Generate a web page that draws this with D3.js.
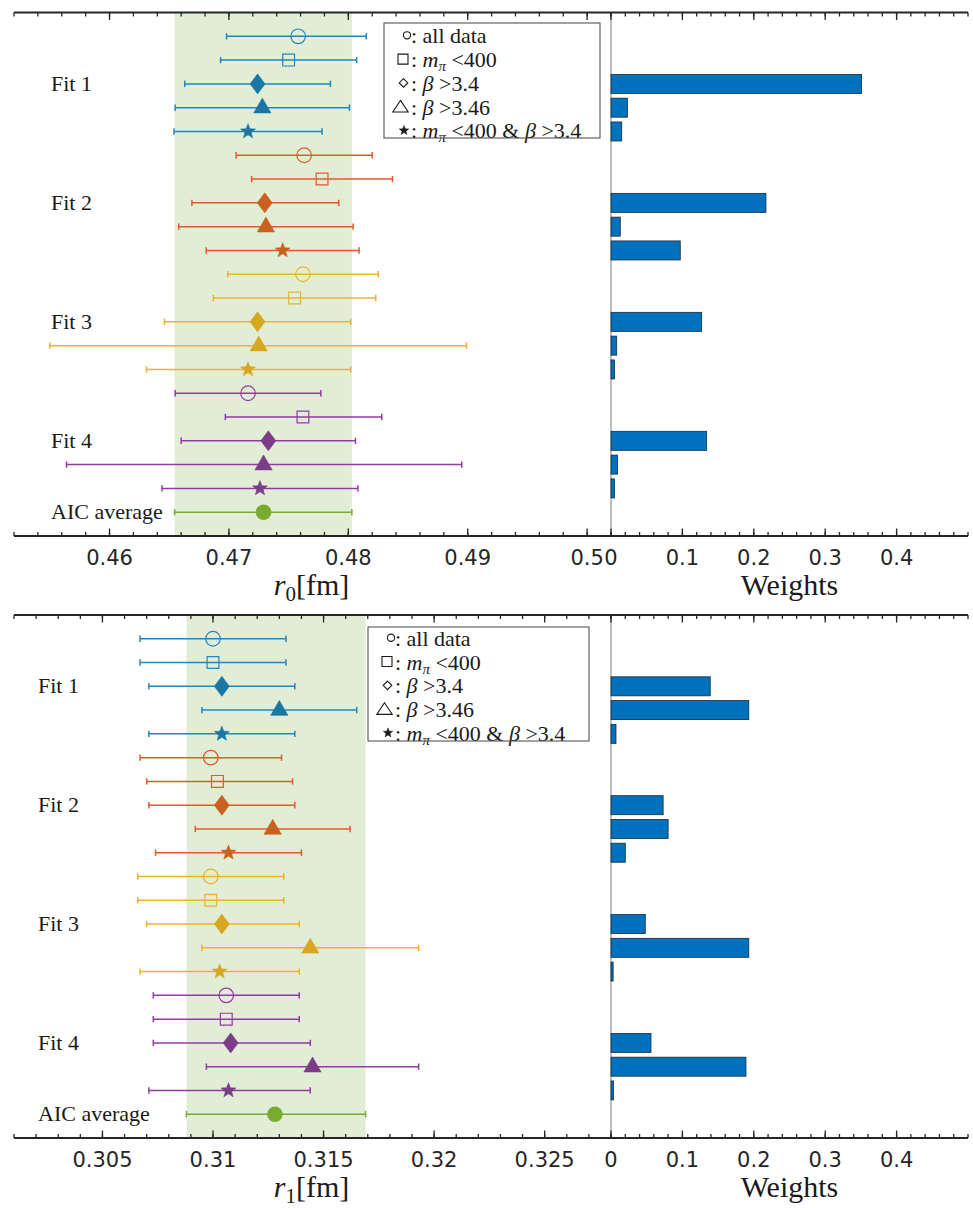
<!DOCTYPE html>
<html>
<head>
<meta charset="utf-8">
<script src="https://cdn.jsdelivr.net/npm/d3@7"></script>
<style>
  body { margin: 0; background: #fff; }
  svg { display: block; }
</style>
</head>
<body>
<svg id="chart" width="973" height="1208"></svg>
<script>
// ---------- data ----------
const fitNames = ["Fit 1", "Fit 2", "Fit 3", "Fit 4"];
const avgName = "AIC average";
const cutShapes = ["circle", "square", "diamond", "triangle", "star"];

// r0 [fm]: central value, lower and upper end of the error bar, 5 cuts per fit
const r0Center = [0.4758, 0.4750, 0.4724, 0.4728, 0.4716,
                  0.4763, 0.4778, 0.4730, 0.4731, 0.4745,
                  0.4762, 0.4755, 0.4724, 0.4725, 0.4716,
                  0.4716, 0.4762, 0.4733, 0.4729, 0.4726];
const r0Lower  = [0.4698, 0.4693, 0.4663, 0.4655, 0.4654,
                  0.4706, 0.4719, 0.4669, 0.4658, 0.4681,
                  0.4699, 0.4687, 0.4646, 0.4550, 0.4631,
                  0.4655, 0.4697, 0.4660, 0.4564, 0.4644];
const r0Upper  = [0.4815, 0.4807, 0.4785, 0.4801, 0.4778,
                  0.4820, 0.4837, 0.4792, 0.4804, 0.4809,
                  0.4825, 0.4823, 0.4802, 0.4899, 0.4802,
                  0.4777, 0.4828, 0.4806, 0.4895, 0.4808];
const r0Average = [0.4729, 0.46545, 0.4803];   // value, lower, upper
const r0Weights = [0, 0, 0.351, 0.023, 0.015,
                   0, 0, 0.217, 0.013, 0.097,
                   0, 0, 0.127, 0.008, 0.005,
                   0, 0, 0.134, 0.009, 0.005];
const r0Ticks = [0.46, 0.47, 0.48, 0.49, 0.5];

// r1 [fm]
const r1Center = [0.3100, 0.3100, 0.3104, 0.3130, 0.3104,
                  0.3099, 0.3102, 0.3104, 0.3127, 0.3107,
                  0.3099, 0.3099, 0.3104, 0.3144, 0.3103,
                  0.3106, 0.3106, 0.3108, 0.3145, 0.3107];
const r1Lower  = [0.3067, 0.3067, 0.3071, 0.3095, 0.3071,
                  0.3067, 0.3070, 0.3071, 0.3092, 0.3074,
                  0.3066, 0.3066, 0.3070, 0.3095, 0.3067,
                  0.3073, 0.3073, 0.3073, 0.3097, 0.3071];
const r1Upper  = [0.3133, 0.3133, 0.3137, 0.3165, 0.3137,
                  0.3131, 0.3136, 0.3137, 0.3162, 0.3140,
                  0.3132, 0.3132, 0.3139, 0.3193, 0.3139,
                  0.3139, 0.3139, 0.3144, 0.3193, 0.3144];
const r1Average = [0.3128, 0.3088, 0.3169];
const r1Weights = [0, 0, 0.139, 0.193, 0.007,
                   0, 0, 0.073, 0.080, 0.020,
                   0, 0, 0.048, 0.193, 0.003,
                   0, 0, 0.056, 0.189, 0.0035];
const r1Ticks = [0.305, 0.31, 0.315, 0.32, 0.325];

const weightTicks = [0, 0.1, 0.2, 0.3, 0.4];

// ---------- styling ----------
const lineColors   = ["#2386c0", "#e2592a", "#eeb22b", "#9539a6"];
const markerColors = ["#1a77a3", "#c9611f", "#d6a821", "#7b3d87"];
const avgColor  = "#77ac30";
const bandColor = "#e2edd6";
const barColor  = "#0072bd";
const inkColor  = "#262626";
const serif = "'Liberation Serif', 'Times New Roman', serif";
const sans  = "'DejaVu Sans', sans-serif";
const textSize = 22;

const svg = d3.select("#chart");

// custom marker outlines (argument = nominal radius in px)
const shapeDiamond = { draw(c, r) { const w = r * 0.75; c.moveTo(0, -r); c.lineTo(w, 0); c.lineTo(0, r); c.lineTo(-w, 0); c.closePath(); } };
const shapeTriangle = { draw(c, r) { c.moveTo(0, -r); c.lineTo(r * 0.9, r * 0.55); c.lineTo(-r * 0.9, r * 0.55); c.closePath(); } };
const shapeStar = { draw(c, r) {
  const ri = r * 0.42;
  for (let k = 0; k < 10; k++) {
    const rad = k % 2 ? ri : r;
    const a = -Math.PI / 2 + k * Math.PI / 5;
    const px = rad * Math.cos(a), py = rad * Math.sin(a);
    if (k === 0) c.moveTo(px, py); else c.lineTo(px, py);
  }
  c.closePath();
} };
const shapeSquare = { draw(c, r) { c.rect(-r, -r, 2 * r, 2 * r); } };
const shapeCircle = { draw(c, r) { c.moveTo(r, 0); c.arc(0, 0, r, 0, 2 * Math.PI); } };
// wider, flatter outline used for the legend's triangle glyph
const shapeOpenTriangle = { draw(c, r) { c.moveTo(0, -r * 0.9); c.lineTo(r * 1.1, r * 0.75); c.lineTo(-r * 1.1, r * 0.75); c.closePath(); } };
const shapeSmallDiamond = { draw(c, r) { c.moveTo(0, -r); c.lineTo(r, 0); c.lineTo(0, r); c.lineTo(-r, 0); c.closePath(); } };

const markerSpec = {
  circle:   { type: shapeCircle,   r: 7.3, filled: false },
  square:   { type: shapeSquare,   r: 5.9, filled: false },
  diamond:  { type: shapeDiamond,  r: 10,  filled: true },
  triangle: { type: shapeTriangle, r: 9.6, filled: true },
  star:     { type: shapeStar,     r: 7.8, filled: true }
};

function legendLabel(text, parts) {
  parts.forEach(p => {
    const t = text.append("tspan").text(p.t);
    if (p.it) t.attr("font-style", "italic");
    if (p.sub) t.attr("font-size", 15).attr("baseline-shift", "-4");
  });
}

// legend glyphs (outline, size, horizontal offset in the box) and labels
const legendEntries = [
  { type: shapeCircle,       r: 3.6, dx: 23,   fill: false, parts: [{ t: "all data" }] },
  { type: shapeSquare,       r: 5,   dx: 19,   fill: false, parts: [{ t: "m", it: true }, { t: "π", it: true, sub: true }, { t: " <400" }] },
  { type: shapeSmallDiamond, r: 4.3, dx: 19.5, fill: false, parts: [{ t: "β", it: true }, { t: " >3.4" }] },
  { type: shapeOpenTriangle, r: 7,   dx: 16.5, fill: false, parts: [{ t: "β", it: true }, { t: " >3.46" }] },
  { type: shapeStar,         r: 5,   dx: 20,   fill: true,  parts: [{ t: "m", it: true }, { t: "π", it: true, sub: true }, { t: " <400 & " }, { t: "β", it: true }, { t: " >3.4" }] }
];

function drawPanel(cfg) {
  const g = svg.append("g");
  const x = d3.scaleLinear().domain(cfg.domain).range([14, 611]);
  const w = d3.scaleLinear().domain([0, 0.5]).range([611, 968]);
  const y = d3.scaleLinear().domain([0, 22]).range([cfg.top, cfg.bottom]);

  // AIC-average band
  g.append("rect")
    .attr("x", x(cfg.average[1])).attr("width", x(cfg.average[2]) - x(cfg.average[1]))
    .attr("y", cfg.top).attr("height", cfg.bottom - cfg.top)
    .attr("fill", bandColor);

  // zero line of the weights panel
  g.append("line")
    .attr("x1", w(0)).attr("x2", w(0)).attr("y1", cfg.top).attr("y2", cfg.bottom)
    .attr("stroke", "#a8a8a8").attr("stroke-width", 1.5);

  // weight bars
  const rows = cfg.center.map((c, i) => ({
    i, row: i + 1, fit: Math.floor(i / 5), shape: cutShapes[i % 5],
    c, lo: cfg.lower[i], hi: cfg.upper[i], wt: cfg.weights[i]
  }));
  g.append("g").selectAll("rect").data(rows.filter(d => d.wt > 0)).join("rect")
    .attr("x", w(0)).attr("width", d => w(d.wt) - w(0))
    .attr("y", d => y(d.row - 0.4)).attr("height", d => y(d.row + 0.4) - y(d.row - 0.4))
    .attr("fill", barColor).attr("stroke", "#1e2a36").attr("stroke-width", 0.8);

  // error bars
  const eb = g.append("g").selectAll("g").data(rows).join("g")
    .attr("stroke", d => lineColors[d.fit]).attr("stroke-width", 1.5).attr("fill", "none");
  eb.append("line").attr("x1", d => x(d.lo)).attr("x2", d => x(d.hi)).attr("y1", d => y(d.row)).attr("y2", d => y(d.row));
  eb.append("line").attr("x1", d => x(d.lo)).attr("x2", d => x(d.lo)).attr("y1", d => y(d.row) - 3.2).attr("y2", d => y(d.row) + 3.2);
  eb.append("line").attr("x1", d => x(d.hi)).attr("x2", d => x(d.hi)).attr("y1", d => y(d.row) - 3.2).attr("y2", d => y(d.row) + 3.2);

  // markers
  g.append("g").selectAll("path").data(rows).join("path")
    .attr("transform", d => `translate(${x(d.c)},${y(d.row)})`)
    .attr("d", d => d3.symbol(markerSpec[d.shape].type, markerSpec[d.shape].r)())
    .attr("fill", d => markerSpec[d.shape].filled ? markerColors[d.fit] : "none")
    .attr("stroke", d => markerSpec[d.shape].filled ? markerColors[d.fit] : lineColors[d.fit])
    .attr("stroke-width", d => markerSpec[d.shape].filled ? 0.6 : 1.2);

  // AIC average
  const ay = y(21);
  const ag = g.append("g").attr("stroke", avgColor).attr("stroke-width", 1.5);
  ag.append("line").attr("x1", x(cfg.average[1])).attr("x2", x(cfg.average[2])).attr("y1", ay).attr("y2", ay);
  ag.append("line").attr("x1", x(cfg.average[1])).attr("x2", x(cfg.average[1])).attr("y1", ay - 3.2).attr("y2", ay + 3.2);
  ag.append("line").attr("x1", x(cfg.average[2])).attr("x2", x(cfg.average[2])).attr("y1", ay - 3.2).attr("y2", ay + 3.2);
  g.append("circle").attr("cx", x(cfg.average[0])).attr("cy", ay).attr("r", 7.8).attr("fill", avgColor);

  // row group labels
  const labels = fitNames.map((n, k) => ({ n, row: 3 + 5 * k })).concat([{ n: avgName, row: 21 }]);
  g.append("g").selectAll("text").data(labels).join("text")
    .attr("x", cfg.labelX).attr("y", d => y(d.row) + 7)
    .attr("font-family", serif).attr("font-size", textSize).attr("fill", "#1a1a1a")
    .text(d => d.n);

  // axes: top and bottom frame lines with inward ticks
  const axG = g.append("g");
  function ticksAt(scale, values, yPos, len, dir) {
    axG.append("g").selectAll("line").data(values).join("line")
      .attr("x1", d => scale(d)).attr("x2", d => scale(d))
      .attr("y1", yPos).attr("y2", yPos + dir * len)
      .attr("stroke", inkColor).attr("stroke-width", 1.3);
  }
  const minorLeft = d3.range(Math.ceil(cfg.domain[0] / cfg.minor - 1e-9), Math.floor(cfg.domain[1] / cfg.minor + 1e-9) + 1).map(k => +(k * cfg.minor).toFixed(6));
  const minorW = d3.range(0, 26).map(k => +(k * 0.02).toFixed(3));
  [[cfg.top, 1], [cfg.bottom, -1]].forEach(([yy, dir]) => {
    ticksAt(x, minorLeft, yy, 4, dir);
    ticksAt(x, cfg.ticks, yy, 7.5, dir);
    ticksAt(w, minorW, yy, 4, dir);
    ticksAt(w, weightTicks, yy, 7.5, dir);
    axG.append("line").attr("x1", 14).attr("x2", 968).attr("y1", yy).attr("y2", yy)
      .attr("stroke", inkColor).attr("stroke-width", 2.2);
  });

  // tick labels under the bottom axis
  const lab = g.append("g").attr("font-family", sans).attr("font-size", 21).attr("fill", inkColor).attr("text-anchor", "middle");
  lab.selectAll("text.l").data(cfg.ticks).join("text").attr("class", "l")
    .attr("x", d => x(d)).attr("y", cfg.bottom + 29).text(d => String(d));
  lab.selectAll("text.w").data(weightTicks).join("text").attr("class", "w")
    .attr("x", d => w(d)).attr("y", cfg.bottom + 29).text(d => String(d));

  // axis titles
  const tt = g.append("text").attr("x", (x.range()[0] + x.range()[1]) / 2 - 1).attr("y", cfg.bottom + 59)
    .attr("text-anchor", "middle").attr("font-family", serif).attr("font-size", 30).attr("fill", "#1a1a1a");
  tt.append("tspan").attr("font-style", "italic").text("r");
  tt.append("tspan").attr("font-size", 21).attr("baseline-shift", "-6").text(cfg.sub);
  tt.append("tspan").text("[fm]");
  g.append("text").attr("x", (w.range()[0] + w.range()[1]) / 2).attr("y", cfg.bottom + 59)
    .attr("text-anchor", "middle").attr("font-family", serif).attr("font-size", 30).attr("fill", "#1a1a1a")
    .text("Weights");

  // legend
  const L = cfg.legend;
  const lg = g.append("g");
  lg.append("rect").attr("x", L.x).attr("y", L.y).attr("width", L.w).attr("height", L.h).attr("fill", "#fff");
  legendEntries.forEach((e, k) => {
    const cy = y(k + 1) - 1;
    lg.append("path")
      .attr("transform", `translate(${L.x + e.dx},${cy})`)
      .attr("d", d3.symbol(e.type, e.r)())
      .attr("fill", e.fill ? "#1a1a1a" : "none")
      .attr("stroke", "#1a1a1a").attr("stroke-width", e.fill ? 0.5 : 1.1);
    lg.append("text").attr("x", L.x + 27).attr("y", cy + 8)
      .attr("font-family", serif).attr("font-size", textSize).attr("fill", "#1a1a1a")
      .text(":");
    const t = lg.append("text").attr("x", L.x + 38.5).attr("y", cy + 8)
      .attr("font-family", serif).attr("font-size", textSize).attr("fill", "#1a1a1a");
    legendLabel(t, e.parts);
  });
  lg.append("rect").attr("x", L.x).attr("y", L.y).attr("width", L.w).attr("height", L.h)
    .attr("fill", "none").attr("stroke", "#555").attr("stroke-width", 1.1);
}

drawPanel({
  domain: [0.452, 0.502], ticks: r0Ticks, minor: 0.002, sub: "0",
  center: r0Center, lower: r0Lower, upper: r0Upper, average: r0Average, weights: r0Weights,
  top: 12.5, bottom: 536, labelX: 51,
  legend: { x: 384, y: 23, w: 216, h: 115 }
});
drawPanel({
  domain: [0.301, 0.328], ticks: r1Ticks, minor: 0.001, sub: "1",
  center: r1Center, lower: r1Lower, upper: r1Upper, average: r1Average, weights: r1Weights,
  top: 615, bottom: 1138, labelX: 38,
  legend: { x: 368, y: 627, w: 221, h: 114 }
});
</script>
</body>
</html>
